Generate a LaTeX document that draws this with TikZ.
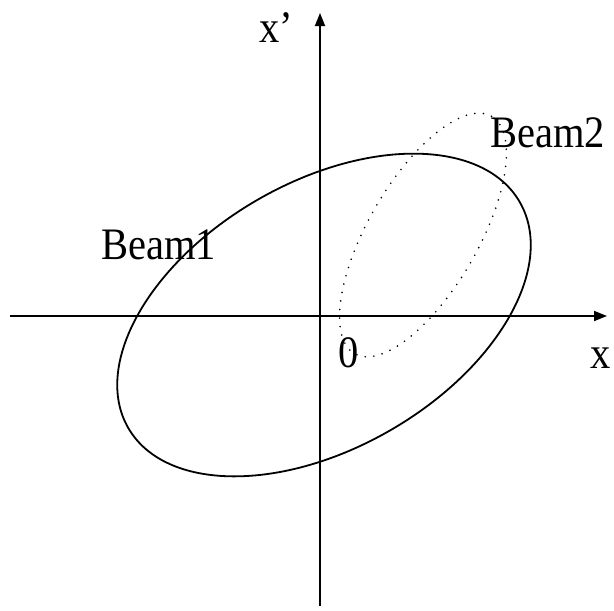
\documentclass[tikz,border=0pt]{standalone}
\usepackage{fontspec}
\newfontfamily\lblfont[FakeStretch=0.9]{Liberation Serif}
\usetikzlibrary{arrows.meta}
\begin{document}
\begin{tikzpicture}[x=1pt,y=-1pt,
  axis/.style={line width=1.8pt,-{Triangle[length=13pt,width=10pt]}},
  beamone/.style={line width=1.8pt},
  beamtwo/.style={line width=1.8pt,line cap=round,dash pattern=on 0pt off 8.6pt},
  lbl/.style={inner sep=0pt,anchor=base west,font=\lblfont\fontsize{45}{45}\selectfont}]
\fill[white] (0,0) rectangle (614,611);
\useasboundingbox (0,0) rectangle (614,611);
\coordinate (xs) at (10,316);
\coordinate (xe) at (607,316);
\coordinate (ys) at (320,606);
\coordinate (ye) at (320,13);
\draw[axis] (xs) -- (xe);
\draw[axis] (ys) -- (ye);
\draw[beamone,shift={(324,315)},rotate=30] (0,0) ellipse [x radius=226pt,y radius=133pt];
\draw[beamtwo,shift={(423,235)},rotate=60] (0,0) ellipse [x radius=137pt,y radius=55pt];
\node[lbl] (xp) at (259,42) {x’};
\node[lbl] (xl) at (590,368) {x};
\node[lbl] (zero) at (338,367) {0};
\node[lbl] (b1) at (101,259) {Beam1};
\node[lbl] (b2) at (490,147) {Beam2};
\end{tikzpicture}
\end{document}
